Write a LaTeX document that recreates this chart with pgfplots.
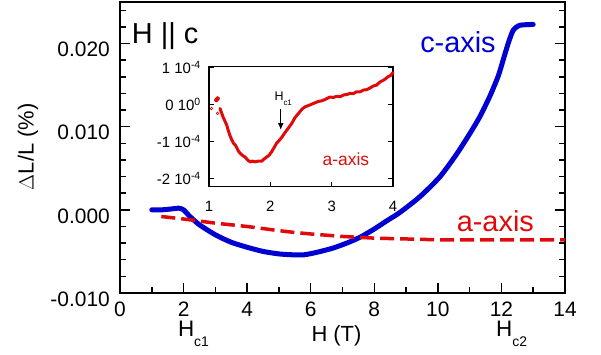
\documentclass[border=0pt]{standalone}
\usepackage{fontspec}
\setmainfont{Liberation Sans}
\usepackage{pgfplots}
\pgfplotsset{compat=1.18}
\usetikzlibrary{arrows.meta}
\definecolor{cblue}{RGB}{0,0,210}
\definecolor{cred}{RGB}{225,10,10}

\pgfplotstableread{
x y
1.0 0.0000
1.3 0.0000
1.6 0.0001
1.85 0.0002
2.0 0.0000
2.2 -0.0008
2.5 -0.0018
3.0 -0.0030
3.5 -0.0039
4.0 -0.0045
4.5 -0.0050
5.0 -0.0053
5.4 -0.0054
5.8 -0.0054
6.2 -0.0051
6.7 -0.0046
7.2 -0.0039
7.6 -0.0032
8.0 -0.0023
8.4 -0.0013
8.81 -0.0003
9.44 0.0016
10.07 0.0040
10.59 0.0067
11.01 0.0092
11.32 0.0112
11.64 0.0137
11.90 0.0161
12.06 0.0181
12.22 0.0201
12.37 0.0216
12.58 0.0222
13.0 0.0223
}\caxis

\pgfplotstableread{
x y
1.3 -0.0008
2.0 -0.0011
3.0 -0.0016
4.0 -0.0020
5.0 -0.0025
5.45 -0.0027
6.0 -0.0029
7.0 -0.0032
8.0 -0.0034
9.0 -0.0035
10.0 -0.0036
11.0 -0.0036
12.0 -0.0036
14.0 -0.0036
}\aaxis

\pgfplotstableread{
x y
1.18 -0.11
1.21 -0.25
1.23 -0.34
1.26 -0.45
1.29 -0.56
1.31 -0.68
1.34 -0.83
1.37 -0.95
1.40 -1.05
1.43 -1.10
1.45 -1.16
1.48 -1.26
1.51 -1.32
1.55 -1.38
1.59 -1.42
1.63 -1.50
1.67 -1.55
1.71 -1.53
1.75 -1.55
1.80 -1.53
1.86 -1.53
1.90 -1.47
1.94 -1.42
1.98 -1.37
2.02 -1.28
2.06 -1.17
2.10 -1.05
2.14 -0.98
2.19 -0.88
2.23 -0.78
2.27 -0.69
2.31 -0.60
2.35 -0.51
2.40 -0.36
2.44 -0.28
2.48 -0.20
2.52 -0.12
2.57 -0.06
2.62 -0.03
2.65 -0.01
2.72 0.04
2.78 0.08
2.84 0.10
2.90 0.14
2.97 0.20
3.03 0.19
3.08 0.22
3.14 0.21
3.20 0.26
3.25 0.27
3.30 0.30
3.35 0.29
3.40 0.34
3.46 0.34
3.52 0.39
3.57 0.40
3.63 0.45
3.68 0.50
3.73 0.52
3.79 0.61
3.85 0.66
3.92 0.75
3.96 0.78
4.00 0.86
}\inset

\begin{document}
\begin{tikzpicture}
\begin{axis}[
  at={(0,0)}, anchor=south west,
  scale only axis, width=445bp, height=291bp,
  xmin=0, xmax=14, ymin=-0.010, ymax=0.025,
  xtick={0,2,4,6,8,10,12,14},
  xticklabels={0,2,4,6,8,10,12,14},
  minor xtick={1,3,5,7,9,11,13},
  ytick={-0.010,0,0.010,0.020},
  yticklabels={-0.010,0.000,0.010,0.020},
  minor ytick={-0.008,-0.006,-0.004,-0.002,0.002,0.004,0.006,0.008,0.012,0.014,0.016,0.018,0.022,0.024},
  scaled y ticks=false, scaled x ticks=false,
  tick align=inside,
  xtick pos=lower, ytick pos=both, yticklabel pos=left,
  major tick length=10bp, minor tick length=6bp,
  axis line style={line width=1.5bp},
  every tick/.style={black, line width=1.5bp},
  tick label style={font=\fontsize{21}{21}\selectfont},
  yticklabel style={inner sep=0pt, xshift=-10bp, yshift=-6bp},
  xticklabel style={inner sep=0pt, yshift=-9bp},
  clip=false,
]
\addplot[cblue, line width=5bp, smooth, tension=0.4, line cap=round] table {\caxis};
\addplot[cred, line width=3.5bp, dash pattern=on 14bp off 6bp] table {\aaxis};
\node[anchor=base west, inner sep=0pt, font=\fontsize{29}{29}\selectfont] at (axis cs:0.37,0.01996) {H \textbar\textbar\ c};
\node[anchor=base west, inner sep=0pt, font=\fontsize{29}{29}\selectfont, text=cblue] at (axis cs:9.44,0.01888) {c-axis};
\node[anchor=base west, inner sep=0pt, font=\fontsize{29}{29}\selectfont, text=cred] at (axis cs:10.59,-0.00261) {a-axis};
\node[anchor=base west, inner sep=0pt, font=\fontsize{22.5}{22.5}\selectfont] at (axis cs:1.82,-0.01527) {H\raisebox{-10bp}{\fontsize{14}{14}\selectfont c1}};
\node[anchor=base west, inner sep=0pt, font=\fontsize{22.5}{22.5}\selectfont] at (axis cs:11.83,-0.01527) {H\raisebox{-10bp}{\fontsize{14}{14}\selectfont c2}};
\node[anchor=base, inner sep=0pt, font=\fontsize{22}{22}\selectfont] at (axis cs:6.81,-0.01587) {H (T)};
\node[rotate=90, anchor=center, inner sep=0pt, font=\fontsize{22}{22}\selectfont] at (axis cs:-2.894,0.00759) {$\Delta$L/L (\%)};
\end{axis}
\begin{axis}[
  at={(89bp,106.3bp)}, anchor=south west,
  scale only axis, width=184bp, height=120bp,
  xmin=1, xmax=4, ymin=-2.22, ymax=1.02,
  xtick={1,2,3,4},
  xticklabels={1,2,3,4},
  ytick={-2,-1,0,1},
  yticklabels={-2 10\textsuperscript{-4},-1 10\textsuperscript{-4},0 10\textsuperscript{0},1 10\textsuperscript{-4}},
  tick align=inside,
  xtick pos=lower, ytick pos=both, yticklabel pos=left,
  major tick length=5bp,
  axis line style={line width=1.5bp},
  every tick/.style={black, line width=1.5bp},
  tick label style={font=\fontsize{15}{15}\selectfont},
  yticklabel style={inner sep=0pt, xshift=-8bp},
  xticklabel style={inner sep=0pt, yshift=-14bp},
  axis background/.style={fill=white},
  clip=false,
]
\addplot[cred, line width=3bp, line join=round, line cap=round] table {\inset};
\addplot[cred, only marks, mark=*, mark size=2bp] coordinates {(1.12,0.12) (1.14,0.16)};
\addplot[cred, only marks, mark=o, mark size=1.3bp, line width=0.6bp] coordinates {(1.04,-0.11) (1.14,-0.24)};
\draw[-{Latex[length=7bp,width=6bp]}, line width=1.3bp] (axis cs:2.17,-0.11) -- (axis cs:2.17,-0.69);
\node[anchor=base west, inner sep=0pt, font=\fontsize{12.5}{12.5}\selectfont] at (axis cs:2.065,0.116) {H\raisebox{-5bp}{\fontsize{8}{8}\selectfont c1}};
\node[anchor=base west, inner sep=0pt, font=\fontsize{17.5}{17.5}\selectfont, text=cred] at (axis cs:2.85,-1.64) {a-axis};
\end{axis}
\pgfresetboundingbox
\useasboundingbox (-120bp,-62bp) rectangle (481bp,293bp);
\end{tikzpicture}
\end{document}
